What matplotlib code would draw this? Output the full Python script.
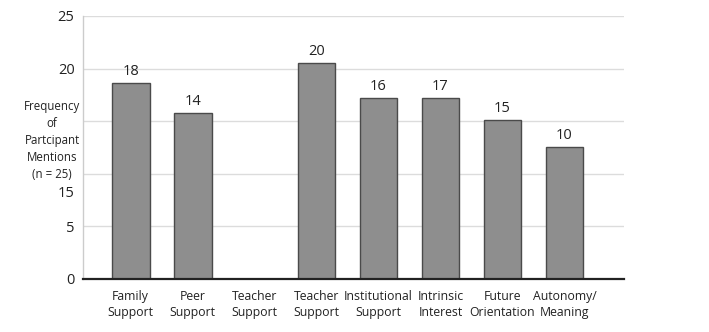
import numpy as np
import matplotlib.pyplot as plt

plt.rcParams['font.family'] = ['Open Sans', 'DejaVu Sans']

# Kategorien und Balkenhöhen (so wie gezeichnet) sowie die Beschriftungen über den Balken
kategorien = ['Family\nSupport', 'Peer\nSupport', 'Teacher\nSupport', 'Teacher\nSupport',
              'Institutional\nSupport', 'Intrinsic\nInterest', 'Future\nOrientation',
              'Autonomy/\nMeaning']
hoehen = [18.6, 15.8, 0, 20.5, 17.2, 17.2, 15.1, 12.5]
werte_text = ['18', '14', '', '20', '16', '17', '15', '10']

# Achsenbeschriftung (so wie im Original, inkl. der verschobenen "15")
gitter = [5, 10, 15, 20, 25]
tick_pos = [0, 5, 8.3, 20, 25]
tick_text = ['0', '5', '15', '20', '25']

fig = plt.figure(figsize=(7.09, 3.32), dpi=100)
ax = fig.add_axes([0.117, 0.16, 0.763, 0.792])

x = np.arange(len(kategorien))
for y in gitter:
    ax.axhline(y, color='#dcdcdc', linewidth=1, zorder=0)

balken = ax.bar(x, hoehen, width=0.61, color='#8e8e8e', edgecolor='#4a4a4a',
                linewidth=1, zorder=2)
for b, t in zip(balken, werte_text):
    if t:
        ax.annotate(t, (b.get_x() + b.get_width() / 2, b.get_height()),
                    xytext=(0, 3), textcoords='offset points',
                    ha='center', va='bottom', fontsize=10.5, color='#222222')

ax.set_xlim(-0.77, 7.96)
ax.set_ylim(0, 25)
ax.set_xticks(x)
ax.set_xticklabels(kategorien, fontsize=8.8, color='#222222', linespacing=1.3)
ax.set_yticks(tick_pos)
ax.set_yticklabels(tick_text, fontsize=10.5, color='#222222')
ax.tick_params(axis='both', length=0)
ax.tick_params(axis='y', pad=6)
ax.tick_params(axis='x', pad=8)

for s in ['top', 'right']:
    ax.spines[s].set_visible(False)
ax.spines['left'].set_color('#cccccc')
ax.spines['left'].set_linewidth(1)
ax.spines['bottom'].set_color('#222222')
ax.spines['bottom'].set_linewidth(1.6)
ax.spines['bottom'].set_zorder(3)

ax.text(-0.057, 13.2, 'Frequency\nof\nPartcipant\nMentions\n(n = 25)',
        transform=ax.get_yaxis_transform(), ha='center', va='center',
        fontsize=8.3, color='#222222', linespacing=1.4)

fig.savefig('out.png', dpi=100, facecolor='white')
